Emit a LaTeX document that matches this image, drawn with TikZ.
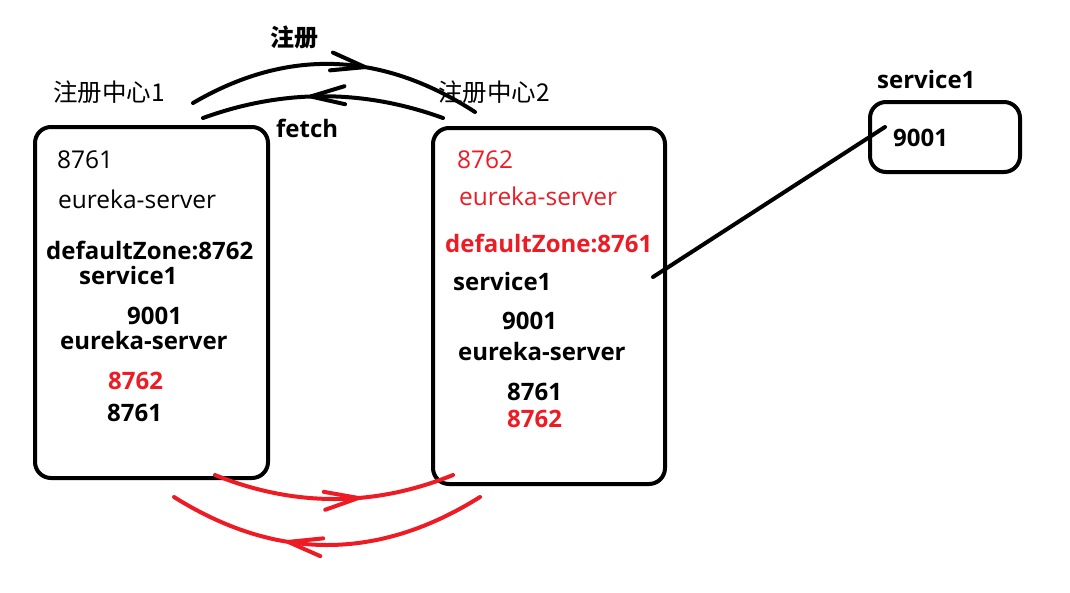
\documentclass[tikz,border=0pt]{standalone}
\usepackage{fontspec}
\setmainfont{Open Sans}
\newfontfamily\cjk{Noto Sans CJK SC}
\usepackage{tikz}
\usetikzlibrary{decorations.markings}
\definecolor{paintred}{RGB}{237,28,36}
\tikzset{box/.style={draw, line width=4pt, rounded corners=16pt, inner sep=0pt}}
\tikzset{txt/.style={anchor=west, inner sep=0pt, font=\fontsize{24.5}{28}\selectfont}}
\tikzset{bk/.style={txt, font=\fontsize{24}{28}\selectfont\bfseries}}
\tikzset{rd/.style={txt, text=paintred}}
\tikzset{brd/.style={bk, text=paintred}}
\tikzset{midarrow/.style={postaction={decorate}, decoration={markings,
  mark=at position #1 with {\draw[line width=4pt, line cap=round, line join=round]
    (-34pt,-9pt) -- (0pt,0pt) -- (-34pt,9pt);}}}}

\begin{document}
\begin{tikzpicture}[x=1pt,y=-1pt, line cap=round]
    \useasboundingbox (0,0) rectangle (1070,592);
    % the two registries and the client
    \node[box, minimum width=233pt, minimum height=351pt] (reg1) at (151.5,302.5) {};
    \node[box, minimum width=232pt, minimum height=356pt] (reg2) at (549,306) {};
    \node[box, minimum width=150pt, minimum height=70pt] (svc) at (945,137) {};

    \node[txt] (t1) at (53,92) {\cjk 注册中心1};
    \node[txt] (t2) at (438,92) {\cjk 注册中心2};
    \node[bk] (reg) at (270,37) {\cjk\bfseries 注册};
    \node[bk] (fetch) at (276,128) {fetch};
    \node[bk] (svcname) at (877,79) {service1};
    \node[bk] (svcport) at (893,138) {9001};

    \foreach \x/\y/\lab/\sty/\tx in {
      57/160/l1/txt/8761,
      58/199/l2/txt/eureka-server,
      46/250/l3/bk/defaultZone:8762,
      79/275/l4/bk/service1,
      127/316/l5/bk/9001,
      60/340/l6/bk/eureka-server,
      108/381/l7/brd/8762,
      107/413/l8/bk/8761,
      457/160/r1/rd/8762,
      459/196/r2/rd/eureka-server,
      445/243/r3/brd/defaultZone:8761,
      453/281/r4/bk/service1,
      502/321/r5/bk/9001,
      458/351/r6/bk/eureka-server,
      507/392/r7/bk/8761,
      507/419/r8/brd/8762%
    } {
      \node[style=\sty] (\lab) at (\x,\y) {\tx};
    }

    \coordinate (a1) at (193,103);
    \coordinate (a2) at (475,112);
    \coordinate (b1) at (443,118);
    \coordinate (b2) at (203,118);
    \coordinate (c1) at (215,475);
    \coordinate (c2) at (453,475);
    \coordinate (d1) at (480,497);
    \coordinate (d2) at (174,497);
    \coordinate (e1) at (653,277);
    \coordinate (e2) at (885,127);

    \draw[line width=4pt, midarrow=0.6] (a1) .. controls (287,48) and (381,51) .. (a2);
    \draw[line width=4pt, midarrow=0.55] (b1) .. controls (363,89) and (283,89) .. (b2);
    \draw[line width=4pt, paintred, midarrow=0.6] (c1) .. controls (294,507) and (374,507) .. (c2);
    \draw[line width=4pt, paintred, midarrow=0.62] (d1) .. controls (378,561) and (276,561) .. (d2);
    \draw[line width=4pt] (e1) -- (e2);
\end{tikzpicture}
\end{document}
